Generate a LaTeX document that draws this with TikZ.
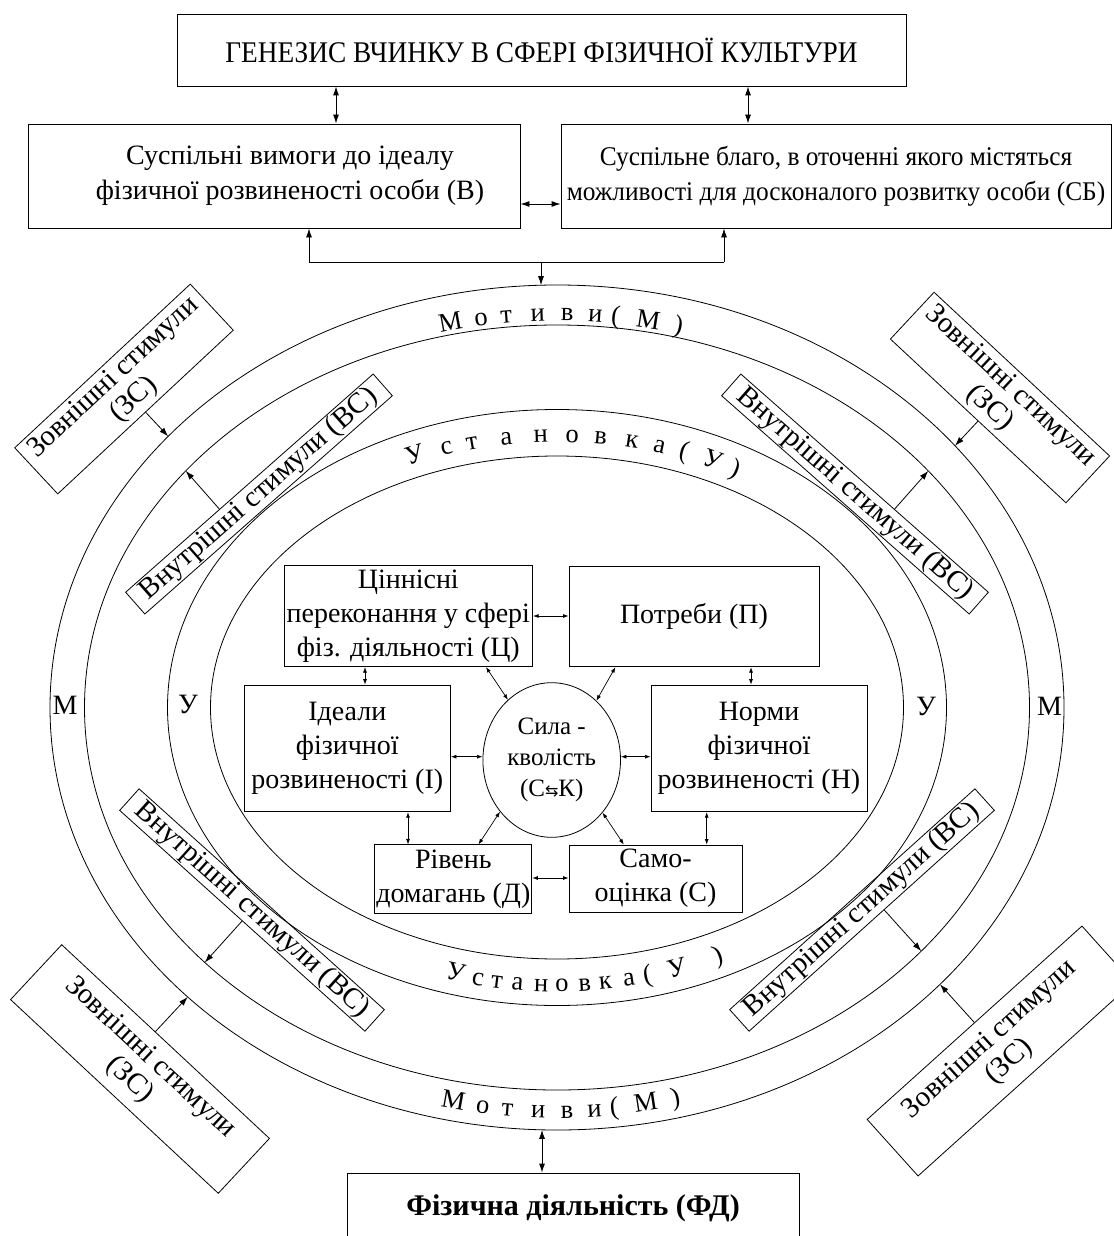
\documentclass[tikz,border=0pt]{standalone}
\usepackage{fontspec}
\setmainfont{Liberation Serif}
\newfontfamily\condf[FakeStretch=0.94]{Liberation Serif}
\newfontfamily\titlef[FakeStretch=0.91]{Liberation Serif}
\newfontfamily\symf{DejaVu Sans}
\usetikzlibrary{arrows.meta,shapes.geometric,calc,intersections}
\tikzset{
  ln/.style={line width=0.8pt},
  bx/.style={draw, line width=0.9pt, inner sep=1pt, align=center, font=\fontsize{28}{35}\selectfont},
  ib/.style={draw, line width=0.9pt, inner sep=1pt, align=center, font=\fontsize{28}{34}\selectfont},
  zsb/.style={draw, line width=0.8pt, inner sep=1pt, align=center, font=\fontsize{29}{30}\selectfont},
  vsb/.style={draw, line width=0.8pt, inner sep=1pt, align=center, font=\fontsize{29}{30}\selectfont, minimum width=330pt, minimum height=29pt},
  ell/.style={line width=0.8pt},
  arcl/.style={inner sep=0pt, font=\fontsize{26.5}{26.5}\selectfont},
  sidel/.style={inner sep=0pt, font=\fontsize{28}{28}\selectfont},
  dS/.style={{Latex[length=5.5pt,width=4pt]}-{Latex[length=5.5pt,width=4pt]}, line width=0.7pt},
  dL/.style={{Latex[length=9pt,width=6pt]}-{Latex[length=9pt,width=6pt]}, line width=0.9pt},
  sL/.style={-{Latex[length=9pt,width=6pt]}, line width=0.8pt},
}
\newcommand\ArcTxt[5]{%
  \foreach \Ltr/\xx [count=\i] in {#5} {%
    \pgfmathsetmacro\uu{(\xx-557)/(#2)}%
    \pgfmathsetmacro\sq{sqrt(1-(\uu)*(\uu))}%
    \pgfmathsetmacro\yy{707.5+(#4)*(#3)*\sq}%
    \pgfmathsetmacro\rr{atan((#4)*(#3)*(\uu)/((#2)*\sq))}%
    \node[arcl, rotate=\rr, anchor=base] (#1\i) at (\xx,\yy) {\Ltr};
  }%
}
\begin{document}
\begin{tikzpicture}[x=1pt,y=-1pt]
\useasboundingbox (0,0) rectangle (1113,1236);
\fill[white] (0,0) rectangle (1113,1236);

% ---------- top part ----------
\node[bx, minimum width=729pt, minimum height=72pt, font=\titlef\fontsize{30}{33}\selectfont] (gen) at (541.5,50) {ГЕНЕЗИС ВЧИНКУ В СФЕРІ ФІЗИЧНОЇ КУЛЬТУРИ};
\node[bx, minimum width=492pt, minimum height=104pt] (vm) at (274,176) {\hspace*{32pt}Суспільні вимоги до ідеалу\\\hspace*{32pt}фізичної розвиненості особи (В)};
\node[bx, minimum width=550pt, minimum height=104pt, font=\condf\fontsize{27}{35}\selectfont] (sb) at (836,176) {Суспільне благо, в оточенні якого містяться\\можливості для досконалого розвитку особи (СБ)};

\draw[dL] (gen.south -| 336,0) -- (vm.north -| 336,0);
\draw[dL] (gen.south -| 748,0) -- (sb.north -| 748,0);
\draw[dL] (vm.east |- 0,204) -- (sb.west |- 0,204);

\coordinate (jl) at (309,262);
\coordinate (jr) at (724,262);
\coordinate (jm) at (541,262);
\coordinate (etop) at (541,285.2);
\draw[ln] (jl) -- (jr);
\draw[sL] (jl) -- (vm.south -| jl);
\draw[sL] (jr) -- (sb.south -| jr);
\draw[sL] (jm) -- (etop);

% ---------- ellipses ----------
\draw[ell, name path=E1] (557,707.5) ellipse [x radius=507pt, y radius=422.5pt];
\draw[ell, name path=E2] (557,707.5) ellipse [x radius=472.5pt, y radius=382.5pt];
\draw[ell, name path=E3] (557,707.5) ellipse [x radius=389.5pt, y radius=298pt];
\draw[ell, name path=E4] (557,707.5) ellipse [x radius=346.5pt, y radius=251.5pt];

% ---------- arc labels ----------
\ArcTxt{mt}{476}{386.5}{-1}{М/452,о/482,т/507,и/538,в/567,и/595,{(}/615,М/647,{)}/677}
\ArcTxt{ut}{359.5}{265.5}{-1}{У/417,с/448,т/473,а/507,н/541,о/572,в/600,к/631,а/658,{(}/682,У/710,{)}/733}
\ArcTxt{ub}{376.5}{284}{1}{У/454,с/477,т/496,а/517,н/541,о/562,в/585,к/606,а/630,{(}/649,У/679,{)}/721}
\ArcTxt{mb}{496.5}{410.5}{1}{М/452,о/482,т/507,и/538,в/567,и/595,{(}/615,М/647,{)}/677}

\node[sidel] (ml) at (65,705) {М};
\node[sidel] (ul) at (188,704) {У};
\node[sidel] (ur) at (926,706) {У};
\node[sidel] (mr) at (1049.5,706) {М};

% ---------- inner boxes ----------
\node[ib, minimum width=248.6pt, minimum height=101.7pt] (ci) at (408.3,615.8) {Ціннісні\\переконання у сфері\\фіз. діяльності (Ц)};
\node[ib, minimum width=250pt, minimum height=100pt] (pt) at (694,616.7) {Потреби (П)};
\node[ib, minimum width=206.2pt, minimum height=126.7pt] (id) at (347.3,748.4) {Ідеали\\фізичної\\розвиненості (І)};
\node[ib, minimum width=216.1pt, minimum height=126.7pt] (nm) at (759,748.4) {Норми\\фізичної\\розвиненості (Н)};
\node[ib, minimum width=157.2pt, minimum height=68.3pt] (rv) at (453.3,879) {Рівень\\домагань (Д)};
\node[ib, minimum width=173pt, minimum height=67pt] (sm) at (655.5,878.5) {Само-\\оцінка (С)};
\node[draw, line width=0.8pt, ellipse, minimum width=137.6pt, minimum height=154.6pt, inner sep=0pt, align=center, font=\fontsize{25}{31}\selectfont] (sk) at (551.7,760) {Сила -\\кволість\\(С{\symf\fontsize{16}{16}\selectfont ⇆}К)};

\draw[dS] (ci.east |- 0,616) -- (pt.west |- 0,616);
\draw[dS] (ci.south -| 365,0) -- (id.north -| 365,0);
\draw[dS] (pt.south -| 751,0) -- (nm.north -| 751,0);
\draw[dS] (id.south -| 408,0) -- (rv.north -| 408,0);
\draw[dS] (nm.south -| 706.7,0) -- (sm.north -| 706.7,0);
\draw[dS] (rv.east |- 0,878) -- (sm.west |- 0,878);
\draw[dS] (id.east |- 0,756.7) -- (sk.west |- 0,756.7);
\draw[dS] (nm.west |- 0,756.7) -- (sk.east |- 0,756.7);
\draw[dS] (ci.south -| 486,0) -- (sk.126);
\draw[dS] (pt.south -| 615.4,0) -- (sk.53);
\draw[dS] (rv.north -| 478.5,0) -- (sk.225);
\draw[dS] (sm.north -| 623.8,0) -- (sk.314);

% ---------- stimuli boxes ----------
\node[zsb, minimum width=240pt, minimum height=63pt, rotate=43] (zs1) at (124,389) {Зовнішні стимули\\(ЗС)};
\node[zsb, minimum width=240pt, minimum height=64pt, rotate=-43] (zs2) at (1000,397.5) {Зовнішні стимули\\(ЗС)};
\node[zsb, minimum width=284pt, minimum height=75pt, rotate=-43] (zs3) at (140,1069) {Зовнішні стимули\\(ЗС)};
\node[zsb, minimum width=289pt, minimum height=76pt, rotate=42] (zs4) at (1000,1051) {Зовнішні стимули\\(ЗС)};
\node[vsb, rotate=41.4] (vs1) at (259,494) {Внутрішні стимули (ВС)};
\node[vsb, rotate=-41.4] (vs2) at (855,494) {Внутрішні стимули (ВС)};
\node[vsb, rotate=-42] (vs3) at (252,910) {Внутрішні стимули (ВС)};
\node[vsb, rotate=42] (vs4) at (862,910) {Внутрішні стимули (ВС)};

\coordinate (s1) at (zs1.south);
\coordinate (s2) at (zs2.south);
\coordinate (s3) at ($(zs3.north west)!0.45!(zs3.north east)$);
\coordinate (s4) at (zs4.north);
\coordinate (v1) at ($(vs1.north west)!0.38!(vs1.north east)$);
\coordinate (v2) at ($(vs2.north west)!0.62!(vs2.north east)$);
\coordinate (v3) at ($(vs3.south west)!0.5!(vs3.south east)$);
\coordinate (v4) at ($(vs4.south west)!0.55!(vs4.south east)$);

\path[name path=r1] (s1) -- ++(-47:150pt);
\path[name path=r2] (s2) -- ++(-133:150pt);
\path[name path=r3] (s3) -- ++(47:150pt);
\path[name path=r4] (s4) -- ++(132:150pt);
\path[name path=q1] (v1) -- ++(131.4:150pt);
\path[name path=q2] (v2) -- ++(48.6:150pt);
\path[name path=q3] (v3) -- ++(-132:150pt);
\path[name path=q4] (v4) -- ++(-48:150pt);
\path[name intersections={of=r1 and E1, by=t1}];
\path[name intersections={of=r2 and E1, by=t2}];
\path[name intersections={of=r3 and E1, by=t3}];
\path[name intersections={of=r4 and E1, by=t4}];
\path[name intersections={of=q1 and E2, by=w1}];
\path[name intersections={of=q2 and E2, by=w2}];
\path[name intersections={of=q3 and E2, by=w3}];
\path[name intersections={of=q4 and E2, by=w4}];
\draw[sL] (s1) -- (t1);
\draw[sL] (s2) -- (t2);
\draw[sL] (s3) -- (t3);
\draw[sL] (s4) -- (t4);
\draw[sL] (v1) -- (w1);
\draw[sL] (v2) -- (w2);
\draw[sL] (v3) -- (w3);
\draw[sL] (v4) -- (w4);

% ---------- bottom ----------
\node[draw, line width=0.9pt, minimum width=452pt, minimum height=80pt, text height=20pt, text depth=16pt, inner sep=0pt, font=\fontsize{30}{36}\selectfont\bfseries] (fd) at (573,1213) {Фізична діяльність (ФД)};
\coordinate (ebot) at (542,1129.8);
\draw[dL] (ebot) -- (fd.north -| ebot);
\end{tikzpicture}
\end{document}
